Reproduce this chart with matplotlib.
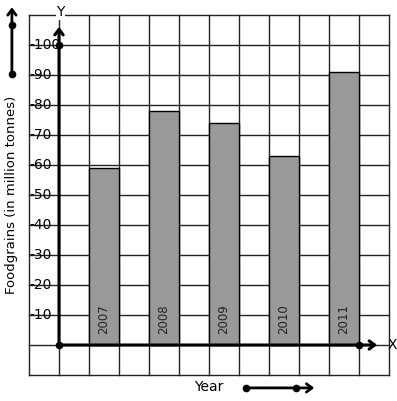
import matplotlib.pyplot as plt

years = ['2007', '2008', '2009', '2010', '2011']
foodgrains = [59, 78, 74, 63, 91]
bar_pos = [1.5, 3.5, 5.5, 7.5, 9.5]
y_ticks = [10, 20, 30, 40, 50, 60, 70, 80, 90, 100]

fig = plt.figure(figsize=(3.97, 4.01), dpi=100)
ax = fig.add_axes([0, 0, 1, 1])
# 1 grid cell = 1 unit across, 10 units up
ax.set_xlim(-59 / 30, 338 / 30)
ax.set_ylim(-56 / 3, 115)
ax.axis('off')

# square grid
for u in range(-1, 12):
    ax.plot([u, u], [-10, 110], color='#222222', lw=1, zorder=1)
for v in range(-10, 111, 10):
    ax.plot([-1, 11], [v, v], color='#222222', lw=1, zorder=1)

# bars
ax.bar(bar_pos, foodgrains, width=1, color='#999999', edgecolor='black', lw=1, zorder=2)
for x, yr in zip(bar_pos, years):
    ax.text(x, 8.5, yr, rotation=90, ha='center', va='center', fontsize=8.5,
            color='#222222', zorder=3)

arrow = '->,head_length=0.4,head_width=0.3'

# axes with arrows
ax.annotate('', xy=(0, 107), xytext=(0, 0),
            arrowprops=dict(arrowstyle=arrow, lw=2.2, color='black'), zorder=4)
ax.annotate('', xy=(10.7, 0), xytext=(0, 0),
            arrowprops=dict(arrowstyle=arrow, lw=2.2, color='black'), zorder=4)
ax.plot([0, 0, 10], [0, 100, 0], 'o', color='black', ms=4.5, zorder=5)
ax.text(0.05, 111, 'Y', ha='center', va='center', fontsize=10,
        bbox=dict(facecolor='white', edgecolor='none', pad=0.5), zorder=5)
ax.text(10.95, 0, 'X', ha='left', va='center', fontsize=10, zorder=5)

for v in y_ticks:
    ax.text(-1.0, v, '-' + str(v), ha='left', va='center', fontsize=10, zorder=3)

# axis titles with direction arrows
ax.text(-1.57, 50, 'Foodgrains (in million tonnes)', rotation=90, ha='center',
        va='center', fontsize=9.5)
ax.annotate('', xy=(-1.57, 113.5), xytext=(-1.57, 90),
            arrowprops=dict(arrowstyle=arrow, lw=2, color='black'), zorder=4)
ax.plot([-1.57, -1.57], [106.5, 90.3], 'o', color='black', ms=4.5, zorder=5)

ax.text(5.0, -14, 'Year', ha='center', va='center', fontsize=10)
ax.annotate('', xy=(8.6, -14.3), xytext=(6.2, -14.3),
            arrowprops=dict(arrowstyle=arrow, lw=2, color='black'), zorder=4)
ax.plot([6.23, 7.9], [-14.3, -14.3], 'o', color='black', ms=4.5, zorder=5)

fig.savefig('out.png', dpi=100)
